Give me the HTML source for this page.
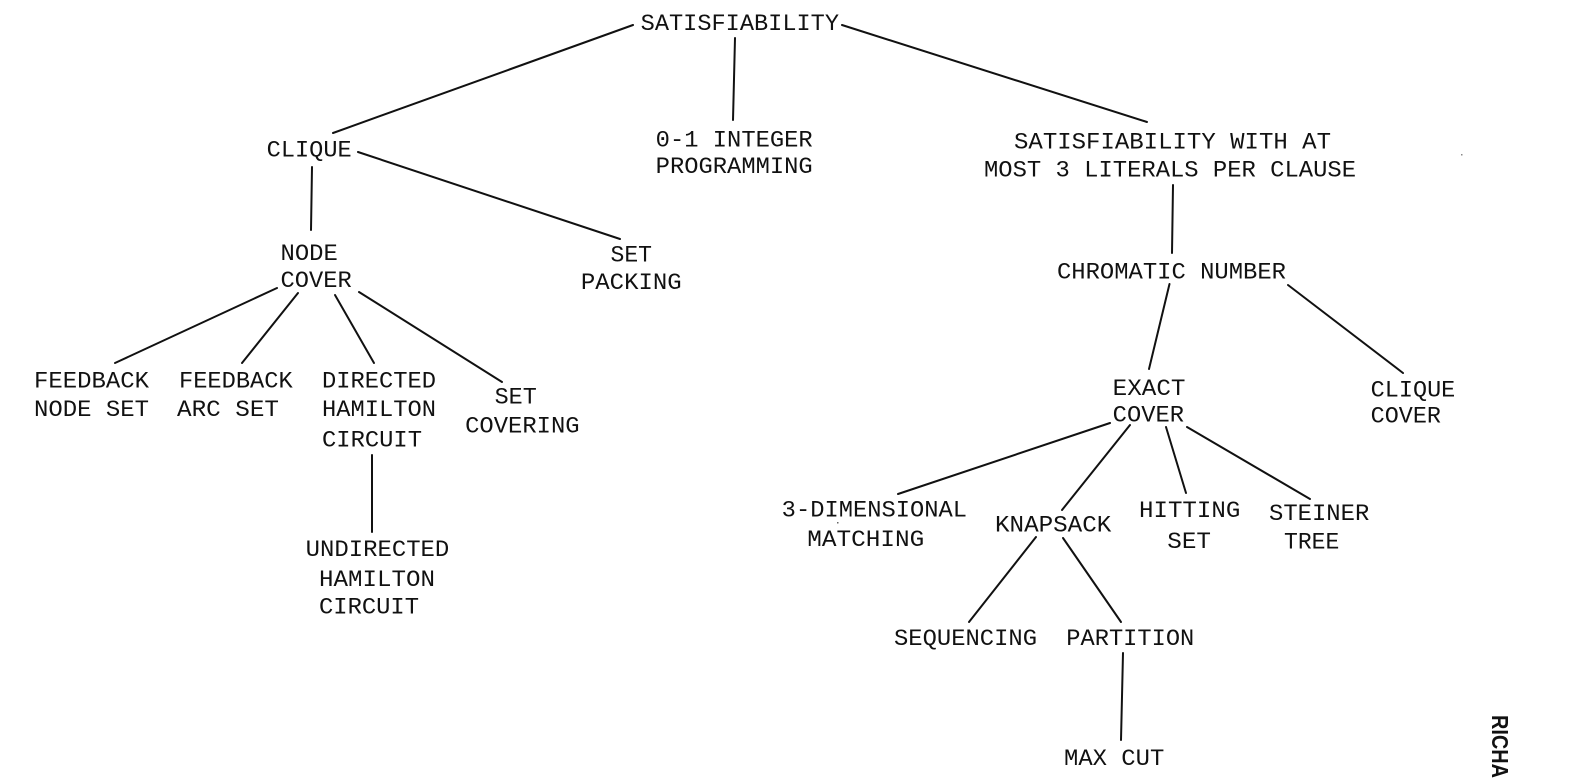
<!DOCTYPE html>
<html>
<head>
<meta charset="utf-8">
<style>
  html, body { margin: 0; padding: 0; background: #ffffff; }
  body { width: 1594px; height: 778px; overflow: hidden; }
  svg { display: block; }
  .t { font-family: "Liberation Mono", "DejaVu Sans Mono", monospace; font-size: 23px; fill: #111; }
  .l { stroke: #111; stroke-width: 2; fill: none; stroke-linecap: round; }
</style>
</head>
<body>
<svg width="1594" height="778" viewBox="0 0 1594 778" xmlns="http://www.w3.org/2000/svg">
  <!-- connectors -->
  <line class="l" x1="633" y1="25" x2="333" y2="133"/>
  <line class="l" x1="735" y1="38" x2="733" y2="120"/>
  <line class="l" x1="842" y1="25" x2="1147" y2="122"/>
  <line class="l" x1="312" y1="167" x2="311" y2="230"/>
  <line class="l" x1="358" y1="152" x2="620" y2="239"/>
  <line class="l" x1="277" y1="288" x2="115" y2="363"/>
  <line class="l" x1="298" y1="293" x2="242" y2="363"/>
  <line class="l" x1="335" y1="295" x2="374" y2="363"/>
  <line class="l" x1="359" y1="292" x2="502" y2="382"/>
  <line class="l" x1="372" y1="455" x2="372" y2="532"/>
  <line class="l" x1="1173" y1="185" x2="1172" y2="253"/>
  <line class="l" x1="1169.5" y1="284" x2="1149" y2="369"/>
  <line class="l" x1="1288" y1="285" x2="1403" y2="373"/>
  <line class="l" x1="1110" y1="423" x2="898" y2="494"/>
  <line class="l" x1="1130" y1="425" x2="1062" y2="510"/>
  <line class="l" x1="1166" y1="427" x2="1186" y2="493"/>
  <line class="l" x1="1187" y1="427" x2="1310" y2="499"/>
  <line class="l" x1="1036" y1="537" x2="969" y2="622"/>
  <line class="l" x1="1063" y1="538" x2="1121" y2="622"/>
  <line class="l" x1="1123" y1="653" x2="1121" y2="740"/>

  <!-- specks -->
  <rect x="1461" y="154" width="1.5" height="1.5" fill="#888"/>
  <rect x="837" y="522" width="1.5" height="1.5" fill="#666"/>

  <!-- labels -->
  <text class="t" x="640.7" y="30" textLength="198.3" lengthAdjust="spacingAndGlyphs">SATISFIABILITY</text>
  <text class="t" x="655.7" y="146.7" textLength="157" lengthAdjust="spacingAndGlyphs">0-1 INTEGER</text>
  <text class="t" x="655.7" y="173" textLength="157" lengthAdjust="spacingAndGlyphs">PROGRAMMING</text>

  <text class="t" x="266.7" y="156.7" textLength="85" lengthAdjust="spacingAndGlyphs">CLIQUE</text>
  <text class="t" x="280.5" y="260" textLength="57.3" lengthAdjust="spacingAndGlyphs">NODE</text>
  <text class="t" x="280.5" y="287" textLength="71.2" lengthAdjust="spacingAndGlyphs">COVER</text>
  <text class="t" x="610.5" y="261.7" textLength="41.5" lengthAdjust="spacingAndGlyphs">SET</text>
  <text class="t" x="580.9" y="289" textLength="100.8" lengthAdjust="spacingAndGlyphs">PACKING</text>

  <text class="t" x="1014" y="148.3" textLength="317" lengthAdjust="spacingAndGlyphs">SATISFIABILITY WITH AT</text>
  <text class="t" x="984" y="176.7" textLength="372" lengthAdjust="spacingAndGlyphs">MOST 3 LITERALS PER CLAUSE</text>
  <text class="t" x="1057" y="278.3" textLength="229" lengthAdjust="spacingAndGlyphs">CHROMATIC NUMBER</text>

  <text class="t" x="34" y="387.3" textLength="115" lengthAdjust="spacingAndGlyphs">FEEDBACK</text>
  <text class="t" x="34" y="416" textLength="115" lengthAdjust="spacingAndGlyphs">NODE SET</text>
  <text class="t" x="179" y="387.3" textLength="113.7" lengthAdjust="spacingAndGlyphs">FEEDBACK</text>
  <text class="t" x="177" y="416" textLength="102" lengthAdjust="spacingAndGlyphs">ARC SET</text>
  <text class="t" x="322" y="387.3" textLength="114" lengthAdjust="spacingAndGlyphs">DIRECTED</text>
  <text class="t" x="322" y="416" textLength="114" lengthAdjust="spacingAndGlyphs">HAMILTON</text>
  <text class="t" x="322" y="446.7" textLength="100" lengthAdjust="spacingAndGlyphs">CIRCUIT</text>
  <text class="t" x="494.6" y="403.3" textLength="42.2" lengthAdjust="spacingAndGlyphs">SET</text>
  <text class="t" x="465.1" y="432.7" textLength="114.5" lengthAdjust="spacingAndGlyphs">COVERING</text>
  <text class="t" x="305.7" y="556" textLength="143.6" lengthAdjust="spacingAndGlyphs">UNDIRECTED</text>
  <text class="t" x="319" y="586" textLength="116" lengthAdjust="spacingAndGlyphs">HAMILTON</text>
  <text class="t" x="319" y="613.3" textLength="100" lengthAdjust="spacingAndGlyphs">CIRCUIT</text>

  <text class="t" x="1112.7" y="395" textLength="72.8" lengthAdjust="spacingAndGlyphs">EXACT</text>
  <text class="t" x="1112.7" y="421.7" textLength="71.3" lengthAdjust="spacingAndGlyphs">COVER</text>
  <text class="t" x="1370.7" y="396.7" textLength="84.6" lengthAdjust="spacingAndGlyphs">CLIQUE</text>
  <text class="t" x="1370.7" y="422.7" textLength="70.3" lengthAdjust="spacingAndGlyphs">COVER</text>

  <text class="t" x="781.7" y="516.7" textLength="185.3" lengthAdjust="spacingAndGlyphs">3-DIMENSIONAL</text>
  <text class="t" x="807.3" y="546" textLength="117" lengthAdjust="spacingAndGlyphs">MATCHING</text>
  <text class="t" x="995" y="531.7" textLength="116.3" lengthAdjust="spacingAndGlyphs">KNAPSACK</text>
  <text class="t" x="1139" y="517" textLength="101.3" lengthAdjust="spacingAndGlyphs">HITTING</text>
  <text class="t" x="1167.3" y="548" textLength="43.7" lengthAdjust="spacingAndGlyphs">SET</text>
  <text class="t" x="1269" y="520" textLength="100.3" lengthAdjust="spacingAndGlyphs">STEINER</text>
  <text class="t" x="1284" y="548.3" textLength="55.3" lengthAdjust="spacingAndGlyphs">TREE</text>
  <text class="t" x="894" y="645" textLength="143" lengthAdjust="spacingAndGlyphs">SEQUENCING</text>
  <text class="t" x="1066.3" y="645" textLength="128" lengthAdjust="spacingAndGlyphs">PARTITION</text>
  <text class="t" x="1064" y="765" textLength="100.3" lengthAdjust="spacingAndGlyphs">MAX CUT</text>

  <!-- rotated margin text -->
  <text transform="translate(1492,715) rotate(90)" x="0" y="0" font-family="Liberation Sans, Arial, sans-serif" font-weight="bold" font-size="23" fill="#111" textLength="63" lengthAdjust="spacingAndGlyphs">RICHA</text>
</svg>
</body>
</html>
